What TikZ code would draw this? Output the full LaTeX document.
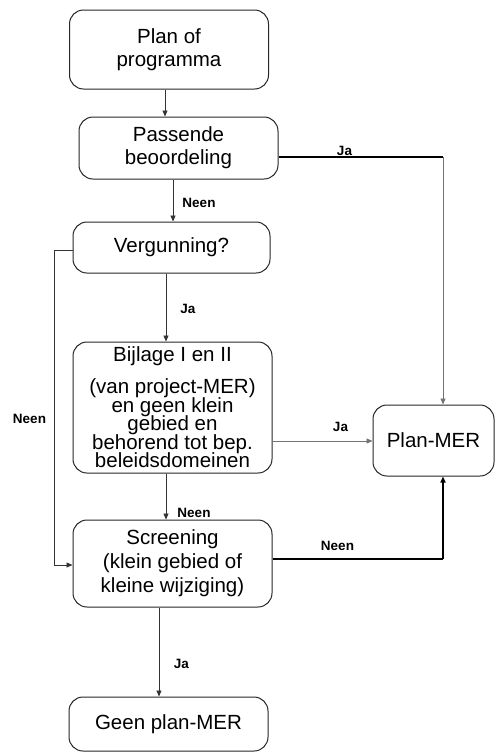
\documentclass[tikz,border=0pt]{standalone}
\usepackage{fontspec}
\setmainfont{Liberation Sans}
\usetikzlibrary{arrows.meta}
\setlength{\lineskiplimit}{-20pt}
\begin{document}
\begin{tikzpicture}[x=1pt,y=-1pt,
  box/.style={draw=black!85, line width=1pt, rounded corners=14pt, align=center,
    inner sep=0pt, font=\fontsize{20.5}{23}\selectfont},
  lbl/.style={font=\fontsize{13.5}{15}\selectfont\bfseries, inner sep=0pt},
  tip/.style={-{Triangle[length=6pt,width=5pt]}},
  conn/.style={draw=black!80, line width=0.8pt, tip},
  connthick/.style={draw=black, line width=1.5pt},
  conngray/.style={draw=black!55, line width=0.9pt, tip}]
\useasboundingbox (0,0) rectangle (496,753);

\node[box, minimum width=199pt, minimum height=79pt] (b1) at (169,49.5) {Plan of\\programma};
\node[box, minimum width=199pt, minimum height=62pt] (b2) at (178.5,148) {Passende\\beoordeling};
\node[box, minimum width=197pt, minimum height=51pt] (b3) at (171.5,247.5) {Vergunning?};
\node[box, minimum width=199pt, minimum height=131pt,
  font=\fontsize{20.5}{18.6}\selectfont] (b4) at (172.5,407.5)
  {Bijlage I en II\\[13pt](van project-MER)\\en geen klein\\gebied en\\behorend tot bep.\\beleidsdomeinen};
\node[box, minimum width=121pt, minimum height=71pt] (pm) at (433.5,440.5) {Plan-MER};
\node[box, minimum width=199pt, minimum height=87pt,
  font=\fontsize{20.5}{24}\selectfont] (sc) at (172.5,563.5) {Screening\\(klein gebied of\\kleine wijziging)};
\node[box, minimum width=199pt, minimum height=54pt] (ge) at (168.5,724) {Geen plan-MER};

\coordinate (xa) at (165,0);
\coordinate (xb) at (173,0);
\coordinate (xc) at (166,0);
\coordinate (xd) at (159,0);
\coordinate (xr) at (443,0);
\coordinate (xl) at (54,0);
\coordinate (ya) at (0,157);
\coordinate (yb) at (0,441);
\coordinate (yc) at (0,559);
\coordinate (yd) at (0,250);
\coordinate (ye) at (0,565);

\draw[conn] (b1.south -| xa) -- (b2.north -| xa);
\draw[conn] (b2.south -| xb) -- (b3.north -| xb);
\draw[conn] (b3.south -| xc) -- (b4.north -| xc);
\draw[conn] (b4.south -| xc) -- (sc.north -| xc);
\draw[conn] (sc.south -| xd) -- (ge.north -| xd);

\coordinate (c1) at (xr |- ya);
\draw[connthick] (b2.east |- ya) -- (c1);
\draw[conngray] (c1) -- (pm.north -| xr);

\draw[conngray] (b4.east |- yb) -- (pm.west |- yb);

\coordinate (c2) at (xr |- yc);
\draw[connthick] (sc.east |- yc) -- (c2);
\draw[connthick, tip] (c2) -- (pm.south -| xr);

\coordinate (c3) at (xl |- yd);
\coordinate (c4) at (xl |- ye);
\draw[conn] (b3.west |- yd) -- (c3) -- (c4) -- (sc.west |- ye);

\node[lbl] (l1) at (344.5,151) {Ja};
\node[lbl] (l2) at (199,203) {Neen};
\node[lbl] (l3) at (188,309) {Ja};
\node[lbl] (l4) at (29.5,419) {Neen};
\node[lbl] (l5) at (340.5,427) {Ja};
\node[lbl] (l6) at (194,513) {Neen};
\node[lbl] (l7) at (337.5,546) {Neen};
\node[lbl] (l8) at (181.5,664) {Ja};
\end{tikzpicture}
\end{document}
